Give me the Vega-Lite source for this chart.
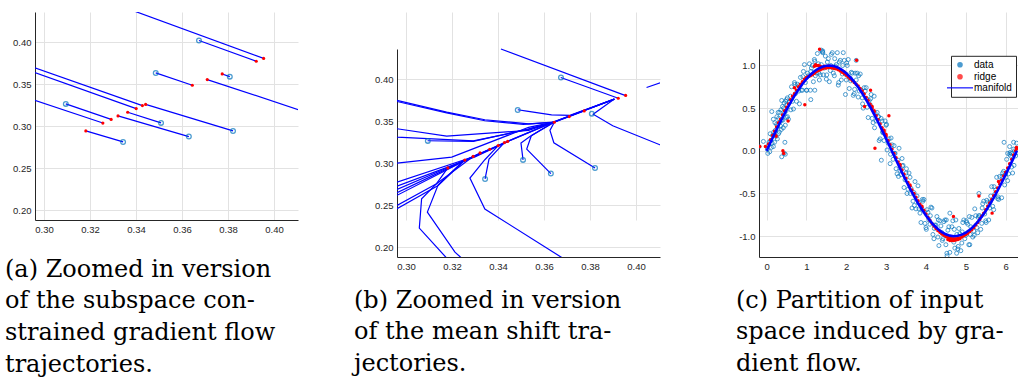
{
  "$schema": "https://vega.github.io/schema/vega-lite/v6.json",
  "background": "white",
  "padding": {"left": 5, "top": 12, "right": 0, "bottom": 0},
  "bounds": "flush",
  "spacing": 99,
  "config": {
    "view": {"stroke": null},
    "axis": {
      "domainColor": "#262626",
      "domainWidth": 1,
      "gridColor": "#e2e2e2",
      "gridWidth": 1,
      "ticks": false,
      "labelFont": "Liberation Sans",
      "labelFontSize": 9.5,
      "labelColor": "#262626",
      "labelPadding": 4,
      "title": null
    },
    "title": {
      "orient": "bottom",
      "anchor": "start",
      "frame": "group",
      "align": "left",
      "baseline": "alphabetic",
      "font": "DejaVu Serif",
      "fontSize": 24,
      "fontWeight": "normal",
      "lineHeight": 31.8,
      "color": "black"
    }
  },
  "datasets": {
    "trajA": [
      {"p":1,"i":0,"x":0.330,"y":0.4467},{"p":1,"i":1,"x":0.3955,"y":0.3810},
      {"p":2,"i":0,"x":0.3674,"y":0.4024},{"p":2,"i":1,"x":0.3923,"y":0.3776},
      {"p":3,"i":0,"x":0.3486,"y":0.3637},{"p":3,"i":1,"x":0.3645,"y":0.3490},
      {"p":4,"i":0,"x":0.3808,"y":0.3593},{"p":4,"i":1,"x":0.3775,"y":0.3625},
      {"p":5,"i":0,"x":0.420,"y":0.3115},{"p":5,"i":1,"x":0.3710,"y":0.3558},
      {"p":6,"i":0,"x":0.285,"y":0.3804},{"p":6,"i":1,"x":0.3428,"y":0.3248},
      {"p":7,"i":0,"x":0.285,"y":0.3749},{"p":7,"i":1,"x":0.3401,"y":0.3212},
      {"p":8,"i":0,"x":0.3822,"y":0.2946},{"p":8,"i":1,"x":0.3442,"y":0.3262},
      {"p":9,"i":0,"x":0.3095,"y":0.3268},{"p":9,"i":1,"x":0.3292,"y":0.3083},
      {"p":10,"i":0,"x":0.285,"y":0.3413},{"p":10,"i":1,"x":0.3256,"y":0.3040},
      {"p":11,"i":0,"x":0.3509,"y":0.3042},{"p":11,"i":1,"x":0.3364,"y":0.3169},
      {"p":12,"i":0,"x":0.3630,"y":0.2879},{"p":12,"i":1,"x":0.3322,"y":0.3125},
      {"p":13,"i":0,"x":0.3344,"y":0.2815},{"p":13,"i":1,"x":0.3182,"y":0.2946}
    ],
    "trajB": [
      {"p":1,"i":0,"x":0.3413,"y":0.4363},{"p":1,"i":1,"x":0.3952,"y":0.3810},
      {"p":2,"i":0,"x":0.3673,"y":0.4024},{"p":2,"i":1,"x":0.3923,"y":0.3776},
      {"p":3,"i":0,"x":0.4046,"y":0.3905},{"p":3,"i":1,"x":0.4200,"y":0.4051},
      {"p":4,"i":0,"x":0.4200,"y":0.3116},{"p":4,"i":1,"x":0.4104,"y":0.3222},{"p":4,"i":2,"x":0.3899,"y":0.3448},{"p":4,"i":3,"x":0.3814,"y":0.3585},{"p":4,"i":4,"x":0.3906,"y":0.3766},
      {"p":5,"i":0,"x":0.3486,"y":0.3639},{"p":5,"i":1,"x":0.3525,"y":0.3623},{"p":5,"i":2,"x":0.3633,"y":0.3579},{"p":5,"i":3,"x":0.3713,"y":0.3572},{"p":5,"i":4,"x":0.3906,"y":0.3766},
      {"p":6,"i":0,"x":0.285,"y":0.382},{"p":6,"i":1,"x":0.2961,"y":0.3750},{"p":6,"i":2,"x":0.3177,"y":0.3611},{"p":6,"i":3,"x":0.3343,"y":0.3520},{"p":6,"i":4,"x":0.3533,"y":0.3472},{"p":6,"i":5,"x":0.3641,"y":0.3492},{"p":6,"i":6,"x":0.3906,"y":0.3766},
      {"p":7,"i":0,"x":0.285,"y":0.3805},{"p":7,"i":1,"x":0.2961,"y":0.3738},{"p":7,"i":2,"x":0.3177,"y":0.3603},{"p":7,"i":3,"x":0.3343,"y":0.3508},{"p":7,"i":4,"x":0.3510,"y":0.3466},{"p":7,"i":5,"x":0.3641,"y":0.3488},
      {"p":8,"i":0,"x":0.285,"y":0.3455},{"p":8,"i":1,"x":0.2961,"y":0.3413},{"p":8,"i":2,"x":0.3177,"y":0.3325},{"p":8,"i":3,"x":0.3533,"y":0.3393},{"p":8,"i":4,"x":0.3641,"y":0.3490},{"p":8,"i":5,"x":0.3906,"y":0.3766},
      {"p":9,"i":0,"x":0.285,"y":0.3340},{"p":9,"i":1,"x":0.2961,"y":0.3313},{"p":9,"i":2,"x":0.3293,"y":0.3268},{"p":9,"i":3,"x":0.3533,"y":0.3405},{"p":9,"i":4,"x":0.3641,"y":0.3490},
      {"p":10,"i":0,"x":0.3094,"y":0.3270},{"p":10,"i":1,"x":0.3293,"y":0.3262},{"p":10,"i":2,"x":0.3533,"y":0.3412},{"p":10,"i":3,"x":0.3641,"y":0.3490},
      {"p":11,"i":0,"x":0.285,"y":0.2990},{"p":11,"i":1,"x":0.2961,"y":0.3003},{"p":11,"i":2,"x":0.3199,"y":0.3075},{"p":11,"i":3,"x":0.3533,"y":0.3430},{"p":11,"i":4,"x":0.3641,"y":0.3492},
      {"p":12,"i":0,"x":0.285,"y":0.2700},{"p":12,"i":1,"x":0.2961,"y":0.2777},{"p":12,"i":2,"x":0.3300,"y":0.3085},{"p":12,"i":3,"x":0.3442,"y":0.3262},{"p":12,"i":4,"x":0.3641,"y":0.3492},{"p":12,"i":5,"x":0.3906,"y":0.3766},
      {"p":13,"i":0,"x":0.285,"y":0.2640},{"p":13,"i":1,"x":0.2961,"y":0.2730},{"p":13,"i":2,"x":0.3300,"y":0.3078},{"p":13,"i":3,"x":0.3442,"y":0.3258},
      {"p":14,"i":0,"x":0.285,"y":0.2570},{"p":14,"i":1,"x":0.2961,"y":0.2690},{"p":14,"i":2,"x":0.3181,"y":0.2948},{"p":14,"i":3,"x":0.3442,"y":0.3262},{"p":14,"i":4,"x":0.3641,"y":0.3492},
      {"p":15,"i":0,"x":0.285,"y":0.2520},{"p":15,"i":1,"x":0.2961,"y":0.2650},{"p":15,"i":2,"x":0.3181,"y":0.2938},{"p":15,"i":3,"x":0.3364,"y":0.3169},
      {"p":16,"i":0,"x":0.285,"y":0.2460},{"p":16,"i":1,"x":0.2961,"y":0.2620},{"p":16,"i":2,"x":0.3181,"y":0.2928},{"p":16,"i":3,"x":0.3322,"y":0.3125},
      {"p":17,"i":0,"x":0.285,"y":0.2320},{"p":17,"i":1,"x":0.2961,"y":0.2500},{"p":17,"i":2,"x":0.3133,"y":0.2757},{"p":17,"i":3,"x":0.3292,"y":0.3083},
      {"p":18,"i":0,"x":0.285,"y":0.2260},{"p":18,"i":1,"x":0.2961,"y":0.2460},{"p":18,"i":2,"x":0.3140,"y":0.2738},{"p":18,"i":3,"x":0.3256,"y":0.3040},
      {"p":19,"i":0,"x":0.3201,"y":0.180},{"p":19,"i":1,"x":0.3058,"y":0.2229},{"p":19,"i":2,"x":0.3068,"y":0.2579},{"p":19,"i":3,"x":0.3133,"y":0.2760},{"p":19,"i":4,"x":0.3182,"y":0.2946},
      {"p":20,"i":0,"x":0.3271,"y":0.180},{"p":20,"i":1,"x":0.3213,"y":0.1943},{"p":20,"i":2,"x":0.3093,"y":0.2420},{"p":20,"i":3,"x":0.3140,"y":0.2745},{"p":20,"i":4,"x":0.3254,"y":0.3040},
      {"p":21,"i":0,"x":0.3723,"y":0.180},{"p":21,"i":1,"x":0.3343,"y":0.2456},{"p":21,"i":2,"x":0.3278,"y":0.2825},{"p":21,"i":3,"x":0.3343,"y":0.3044},{"p":21,"i":4,"x":0.3401,"y":0.3212},
      {"p":22,"i":0,"x":0.3344,"y":0.2815},{"p":22,"i":1,"x":0.3361,"y":0.3052},{"p":22,"i":2,"x":0.3428,"y":0.3248},
      {"p":23,"i":0,"x":0.3509,"y":0.3042},{"p":23,"i":1,"x":0.3500,"y":0.3242},{"p":23,"i":2,"x":0.3539,"y":0.3321},{"p":23,"i":3,"x":0.3641,"y":0.3490},
      {"p":24,"i":0,"x":0.3630,"y":0.2879},{"p":24,"i":1,"x":0.3525,"y":0.3170},{"p":24,"i":2,"x":0.3545,"y":0.3330},{"p":24,"i":3,"x":0.3645,"y":0.3490},
      {"p":25,"i":0,"x":0.3822,"y":0.2946},{"p":25,"i":1,"x":0.3643,"y":0.3246},{"p":25,"i":2,"x":0.3626,"y":0.3393},{"p":25,"i":3,"x":0.3645,"y":0.3490},{"p":25,"i":4,"x":0.3775,"y":0.3625}
    ],
    "starts": [
      {"x":0.3674,"y":0.4024},{"x":0.3486,"y":0.3637},{"x":0.3808,"y":0.3593},{"x":0.3822,"y":0.2946},
      {"x":0.3095,"y":0.3268},{"x":0.3509,"y":0.3042},{"x":0.3630,"y":0.2879},{"x":0.3344,"y":0.2815}
    ],
    "ends": [
      {"x":0.3955,"y":0.3810},{"x":0.3923,"y":0.3776},{"x":0.3645,"y":0.3490},{"x":0.3775,"y":0.3625},
      {"x":0.3710,"y":0.3558},{"x":0.3428,"y":0.3248},{"x":0.3401,"y":0.3212},{"x":0.3442,"y":0.3262},
      {"x":0.3292,"y":0.3083},{"x":0.3256,"y":0.3040},{"x":0.3364,"y":0.3169},{"x":0.3322,"y":0.3125},
      {"x":0.3182,"y":0.2946}
    ],
    "noisy": [
      {"x":-0.19,"y":0.05},{"x":-0.08,"y":0.11},{"x":0.02,"y":0.02},{"x":0.06,"y":0.10},{"x":0.08,"y":-0.01},{"x":0.10,"y":0.12},{"x":0.12,"y":0.04},{"x":0.13,"y":0.46},{"x":0.15,"y":0.18},{"x":0.17,"y":0.05},{"x":0.17,"y":0.37},{"x":0.18,"y":0.22},{"x":0.20,"y":0.10},{"x":0.22,"y":0.24},{"x":0.24,"y":0.17},{"x":0.25,"y":0.31},{"x":0.26,"y":0.40},{"x":0.27,"y":0.14},{"x":0.28,"y":0.29},{"x":0.30,"y":0.38},{"x":0.30,"y":0.20},{"x":0.32,"y":0.22},{"x":0.33,"y":0.45},{"x":0.34,"y":0.34},{"x":0.35,"y":0.29},{"x":0.36,"y":0.48},{"x":0.38,"y":0.36},{"x":0.38,"y":-0.07},{"x":0.38,"y":0.59},{"x":0.40,"y":0.52},{"x":0.41,"y":0.36},{"x":0.42,"y":0.27},{"x":0.43,"y":0.50},{"x":0.44,"y":-0.03},{"x":0.45,"y":0.44},{"x":0.46,"y":0.10},{"x":0.47,"y":-0.04},{"x":0.47,"y":0.30},{"x":0.48,"y":0.58},{"x":0.49,"y":0.47},{"x":0.50,"y":0.39},{"x":0.52,"y":0.62},
      {"x":0.05,"y":0.07},{"x":0.09,"y":0.20},{"x":0.14,"y":0.09},{"x":0.21,"y":0.33},{"x":0.29,"y":0.45},{"x":0.37,"y":0.25},{"x":0.44,"y":0.56},{"x":0.03,"y":-0.03},
      {"x":0.50,"y":0.60},{"x":0.525,"y":0.40},{"x":0.55,"y":0.37},{"x":0.575,"y":0.57},{"x":0.60,"y":0.64},{"x":0.625,"y":0.75},{"x":0.65,"y":0.58},{"x":0.675,"y":0.49},{"x":0.70,"y":0.80},{"x":0.725,"y":0.67},
      {"x":0.75,"y":0.58},{"x":0.775,"y":0.78},{"x":0.80,"y":0.76},{"x":0.825,"y":0.55},{"x":0.85,"y":0.86},{"x":0.875,"y":0.71},{"x":0.90,"y":0.71},{"x":0.925,"y":0.93},{"x":0.95,"y":1.01},{"x":0.975,"y":0.80},
      {"x":1.00,"y":0.71},{"x":1.025,"y":0.91},{"x":1.05,"y":0.88},{"x":1.075,"y":1.02},{"x":1.10,"y":0.71},{"x":1.125,"y":0.97},{"x":1.15,"y":1.00},{"x":1.175,"y":0.81},{"x":1.20,"y":1.07},{"x":1.225,"y":0.88},
      {"x":1.25,"y":0.91},{"x":1.275,"y":1.14},{"x":1.30,"y":1.02},{"x":1.325,"y":0.83},{"x":1.35,"y":0.89},{"x":1.375,"y":1.01},{"x":1.40,"y":1.16},{"x":1.425,"y":0.89},{"x":1.45,"y":0.97},{"x":1.475,"y":1.11},
      {"x":1.50,"y":0.84},{"x":1.525,"y":1.04},{"x":1.55,"y":1.08},{"x":1.575,"y":0.81},{"x":1.60,"y":0.94},{"x":1.625,"y":1.13},{"x":1.65,"y":1.15},{"x":1.675,"y":0.91},{"x":1.70,"y":0.88},{"x":1.725,"y":0.99},
      {"x":1.75,"y":1.01},{"x":1.775,"y":1.15},{"x":1.80,"y":0.77},{"x":1.825,"y":1.04},{"x":1.85,"y":1.06},{"x":1.875,"y":0.83},{"x":1.90,"y":0.90},{"x":1.925,"y":1.15},{"x":1.95,"y":1.06},{"x":1.975,"y":0.90},
      {"x":2.00,"y":0.83},{"x":2.025,"y":1.00},{"x":2.05,"y":1.07},{"x":2.075,"y":0.73},{"x":2.10,"y":0.85},{"x":2.125,"y":0.92},{"x":2.15,"y":0.91},{"x":2.175,"y":0.65},{"x":2.20,"y":0.67},{"x":2.225,"y":0.91},
      {"x":2.25,"y":0.83},{"x":2.275,"y":0.91},{"x":2.30,"y":0.63},{"x":2.325,"y":0.70},{"x":2.35,"y":0.90},{"x":2.375,"y":0.71},{"x":2.40,"y":0.62},{"x":2.425,"y":0.50},{"x":2.45,"y":0.74},{"x":2.475,"y":0.70},
      {"x":2.50,"y":0.74},{"x":2.525,"y":0.51},{"x":2.55,"y":0.39},{"x":2.575,"y":0.59},{"x":2.60,"y":0.54},{"x":2.625,"y":0.66},{"x":2.65,"y":0.38},{"x":2.675,"y":0.33},{"x":2.70,"y":0.64},{"x":2.725,"y":0.44},
      {"x":2.75,"y":0.35},{"x":2.775,"y":0.45},{"x":2.80,"y":0.40},{"x":2.825,"y":0.12},{"x":2.85,"y":0.14},{"x":2.875,"y":0.38},{"x":2.90,"y":0.35},{"x":2.925,"y":0.21},{"x":2.95,"y":0.12},{"x":2.975,"y":0.35},
      {"x":3.00,"y":0.30},{"x":3.025,"y":0.01},{"x":3.05,"y":0.09},{"x":3.075,"y":0.14},{"x":3.10,"y":-0.15},{"x":3.125,"y":0.15},{"x":3.15,"y":0.07},{"x":3.175,"y":-0.10},{"x":3.20,"y":0.06},{"x":3.225,"y":-0.03},
      {"x":3.25,"y":-0.21},{"x":3.275,"y":-0.27},{"x":3.30,"y":-0.11},{"x":3.325,"y":0.03},{"x":3.35,"y":-0.23},{"x":3.375,"y":-0.28},{"x":3.40,"y":-0.09},{"x":3.425,"y":-0.17},{"x":3.45,"y":-0.43},{"x":3.475,"y":-0.34},
      {"x":3.50,"y":-0.26},{"x":3.525,"y":-0.50},{"x":3.55,"y":-0.45},{"x":3.575,"y":-0.26},{"x":3.60,"y":-0.31},{"x":3.625,"y":-0.44},{"x":3.65,"y":-0.67},{"x":3.675,"y":-0.59},{"x":3.70,"y":-0.49},{"x":3.725,"y":-0.36},
      {"x":3.75,"y":-0.68},{"x":3.775,"y":-0.53},{"x":3.80,"y":-0.41},{"x":3.825,"y":-0.68},{"x":3.85,"y":-0.73},{"x":3.875,"y":-0.84},{"x":3.90,"y":-0.68},{"x":3.925,"y":-0.59},{"x":3.95,"y":-0.57},{"x":3.975,"y":-0.85},
      {"x":4.00,"y":-0.90},{"x":4.025,"y":-0.69},{"x":4.05,"y":-0.72},{"x":4.075,"y":-0.81},{"x":4.10,"y":-0.86},{"x":4.125,"y":-0.66},{"x":4.15,"y":-0.67},{"x":4.175,"y":-0.98},{"x":4.20,"y":-1.03},{"x":4.225,"y":-0.87},
      {"x":4.25,"y":-0.87},{"x":4.275,"y":-0.77},{"x":4.30,"y":-1.01},{"x":4.325,"y":-1.11},{"x":4.35,"y":-0.82},{"x":4.375,"y":-0.88},{"x":4.40,"y":-0.96},{"x":4.425,"y":-1.03},{"x":4.45,"y":-0.83},{"x":4.475,"y":-0.81},
      {"x":4.50,"y":-1.10},{"x":4.525,"y":-1.20},{"x":4.55,"y":-0.93},{"x":4.575,"y":-0.89},{"x":4.60,"y":-1.19},{"x":4.625,"y":-1.04},{"x":4.65,"y":-0.89},{"x":4.675,"y":-0.82},{"x":4.70,"y":-1.07},{"x":4.725,"y":-1.14},
      {"x":4.75,"y":-0.81},{"x":4.775,"y":-0.98},{"x":4.80,"y":-1.15},{"x":4.825,"y":-0.91},{"x":4.85,"y":-0.97},{"x":4.875,"y":-1.17},{"x":4.90,"y":-1.08},{"x":4.925,"y":-0.84},{"x":4.95,"y":-0.81},{"x":4.975,"y":-1.03},
      {"x":5.00,"y":-0.99},{"x":5.025,"y":-0.84},{"x":5.05,"y":-0.86},{"x":5.075,"y":-1.10},{"x":5.10,"y":-1.10},{"x":5.125,"y":-0.89},{"x":5.15,"y":-0.78},{"x":5.175,"y":-1.01},{"x":5.20,"y":-0.94},{"x":5.225,"y":-0.68},
      {"x":5.25,"y":-0.76},{"x":5.275,"y":-0.90},{"x":5.30,"y":-0.96},{"x":5.325,"y":-0.76},{"x":5.35,"y":-0.76},{"x":5.375,"y":-0.92},{"x":5.40,"y":-0.85},{"x":5.425,"y":-0.62},{"x":5.45,"y":-0.59},{"x":5.475,"y":-0.74},
      {"x":5.50,"y":-0.82},{"x":5.525,"y":-0.58},{"x":5.55,"y":-0.60},{"x":5.575,"y":-0.81},{"x":5.60,"y":-0.67},{"x":5.625,"y":-0.53},{"x":5.65,"y":-0.42},{"x":5.675,"y":-0.65},{"x":5.70,"y":-0.69},{"x":5.725,"y":-0.51},
      {"x":5.75,"y":-0.46},{"x":5.775,"y":-0.31},{"x":5.80,"y":-0.56},{"x":5.825,"y":-0.57},{"x":5.85,"y":-0.30},{"x":5.875,"y":-0.36},{"x":5.90,"y":-0.55},{"x":5.925,"y":-0.26},{"x":5.95,"y":-0.24},{"x":5.975,"y":-0.40},
      {"x":6.00,"y":-0.27},{"x":6.025,"y":-0.10},{"x":6.05,"y":-0.35},{"x":6.075,"y":-0.27},{"x":6.10,"y":-0.04},{"x":6.125,"y":-0.06},{"x":6.15,"y":-0.19},{"x":6.175,"y":-0.26},{"x":6.20,"y":0.02},{"x":6.225,"y":0.00},
      {"x":6.25,"y":-0.06},{"x":6.275,"y":0.09},
      {"x":0.51,"y":0.54},{"x":0.61,"y":0.48},{"x":0.71,"y":0.78},{"x":0.81,"y":0.70},{"x":0.91,"y":0.87},{"x":1.01,"y":0.71},{"x":1.11,"y":0.93},{"x":1.21,"y":1.05},{"x":1.31,"y":0.91},{"x":1.41,"y":1.15},
      {"x":1.51,"y":0.89},{"x":1.61,"y":1.00},{"x":1.71,"y":1.08},{"x":1.81,"y":0.80},{"x":1.91,"y":1.00},{"x":2.01,"y":1.03},{"x":2.11,"y":0.82},{"x":2.21,"y":0.72},{"x":2.31,"y":0.88},{"x":2.41,"y":0.55},
      {"x":2.51,"y":0.61},{"x":2.61,"y":0.61},{"x":2.71,"y":0.27},{"x":2.81,"y":0.40},{"x":2.91,"y":0.22},{"x":3.01,"y":0.31},{"x":3.11,"y":-0.04},{"x":3.21,"y":-0.03},{"x":3.31,"y":-0.30},{"x":3.41,"y":-0.18},
      {"x":3.51,"y":-0.21},{"x":3.61,"y":-0.50},{"x":3.71,"y":-0.64},{"x":3.81,"y":-0.61},{"x":3.91,"y":-0.57},{"x":4.01,"y":-0.92},{"x":4.11,"y":-0.76},{"x":4.21,"y":-0.91},{"x":4.31,"y":-0.81},{"x":4.41,"y":-1.05},
      {"x":4.51,"y":-0.81},{"x":4.61,"y":-1.02},{"x":4.71,"y":-0.92},{"x":4.81,"y":-1.12},{"x":4.91,"y":-0.95},{"x":5.01,"y":-0.82},{"x":5.11,"y":-0.98},{"x":5.21,"y":-0.99},{"x":5.31,"y":-0.78},{"x":5.41,"y":-0.67},
      {"x":5.51,"y":-0.84},{"x":5.61,"y":-0.60},{"x":5.71,"y":-0.42},{"x":5.81,"y":-0.54},{"x":5.91,"y":-0.30},{"x":6.01,"y":-0.31},{"x":6.11,"y":-0.02},{"x":6.21,"y":-0.17},
      {"x":1.11,"y":0.60},{"x":1.21,"y":0.71},{"x":1.37,"y":1.18},{"x":1.41,"y":1.17},{"x":1.98,"y":0.66},{"x":2.25,"y":1.06},{"x":2.88,"y":-0.11},{"x":4.53,"y":-1.23},{"x":4.60,"y":-0.73},{"x":4.77,"y":-1.20},{"x":5.09,"y":-0.77},{"x":5.33,"y":-0.50},{"x":5.96,"y":0.10},{"x":6.20,"y":0.10},{"x":6.10,"y":0.05},{"x":6.05,"y":-0.03},{"x":6.15,"y":-0.03},{"x":6.28,"y":-0.02}
    ],
    "ridge": [
      {"x":0.05,"y":0.08},{"x":0.10,"y":0.13},{"x":0.15,"y":0.18},{"x":0.20,"y":0.23},{"x":0.25,"y":0.28},{"x":0.30,"y":0.33},{"x":0.35,"y":0.37},{"x":0.40,"y":0.42},{"x":0.45,"y":0.47},{"x":0.50,"y":0.51},
      {"x":0.55,"y":0.55},{"x":0.60,"y":0.60},{"x":0.65,"y":0.64},{"x":0.70,"y":0.67},{"x":0.75,"y":0.71},{"x":0.80,"y":0.75},{"x":0.85,"y":0.78},{"x":0.90,"y":0.81},{"x":0.95,"y":0.84},{"x":1.00,"y":0.86},
      {"x":1.05,"y":0.87},{"x":1.10,"y":0.88},{"x":1.15,"y":0.89},{"x":1.20,"y":0.91},{"x":1.25,"y":0.93},{"x":1.30,"y":0.94},{"x":1.35,"y":0.95},{"x":1.40,"y":0.96},{"x":1.45,"y":0.97},{"x":1.50,"y":0.97},
      {"x":1.55,"y":0.975},{"x":1.60,"y":0.975},{"x":1.65,"y":0.97},{"x":1.70,"y":0.965},{"x":1.75,"y":0.96},{"x":1.80,"y":0.95},{"x":1.85,"y":0.935},{"x":1.90,"y":0.92},{"x":1.95,"y":0.905},{"x":2.00,"y":0.885},
      {"x":2.05,"y":0.865},{"x":2.10,"y":0.845},{"x":2.15,"y":0.825},{"x":2.20,"y":0.80},{"x":2.25,"y":0.78},{"x":2.30,"y":0.76},{"x":2.35,"y":0.73},{"x":2.40,"y":0.70},{"x":2.45,"y":0.665},{"x":2.50,"y":0.625},
      {"x":2.55,"y":0.59},{"x":2.60,"y":0.545},{"x":2.65,"y":0.50},{"x":2.70,"y":0.455},{"x":2.75,"y":0.41},{"x":2.80,"y":0.365},{"x":2.85,"y":0.315},{"x":2.90,"y":0.27},{"x":2.95,"y":0.22},{"x":3.00,"y":0.17},
      {"x":3.05,"y":0.12},{"x":3.10,"y":0.07},{"x":3.15,"y":0.02},{"x":3.20,"y":-0.03},{"x":3.25,"y":-0.08},{"x":3.30,"y":-0.13},{"x":3.35,"y":-0.18},{"x":3.40,"y":-0.225},{"x":3.45,"y":-0.275},{"x":3.50,"y":-0.32},
      {"x":3.55,"y":-0.37},{"x":3.60,"y":-0.415},{"x":3.65,"y":-0.46},{"x":3.70,"y":-0.50},{"x":3.75,"y":-0.545},{"x":3.80,"y":-0.585},{"x":3.85,"y":-0.625},{"x":3.90,"y":-0.665},{"x":3.95,"y":-0.70},{"x":4.00,"y":-0.74},
      {"x":4.05,"y":-0.78},{"x":4.10,"y":-0.815},{"x":4.15,"y":-0.85},{"x":4.20,"y":-0.88},{"x":4.25,"y":-0.91},{"x":4.30,"y":-0.935},{"x":4.35,"y":-0.955},{"x":4.40,"y":-0.975},{"x":4.45,"y":-0.99},{"x":4.50,"y":-1.005},
      {"x":4.55,"y":-1.015},{"x":4.60,"y":-1.025},{"x":4.65,"y":-1.03},{"x":4.70,"y":-1.03},{"x":4.75,"y":-1.03},{"x":4.80,"y":-1.025},{"x":4.85,"y":-1.02},{"x":4.90,"y":-1.01},{"x":4.95,"y":-0.995},{"x":5.00,"y":-0.98},
      {"x":5.05,"y":-0.965},{"x":5.10,"y":-0.945},{"x":5.15,"y":-0.925},{"x":5.20,"y":-0.90},{"x":5.25,"y":-0.87},{"x":5.30,"y":-0.84},{"x":5.35,"y":-0.805},{"x":5.40,"y":-0.765},{"x":5.45,"y":-0.73},{"x":5.50,"y":-0.69},
      {"x":5.55,"y":-0.65},{"x":5.60,"y":-0.61},{"x":5.65,"y":-0.57},{"x":5.70,"y":-0.525},{"x":5.75,"y":-0.48},{"x":5.80,"y":-0.435},{"x":5.85,"y":-0.39},{"x":5.90,"y":-0.345},{"x":5.95,"y":-0.295},{"x":6.00,"y":-0.25},
      {"x":6.05,"y":-0.20},{"x":6.10,"y":-0.15},{"x":6.15,"y":-0.10},{"x":6.20,"y":-0.05},{"x":6.25,"y":0.0},{"x":6.28,"y":0.03},
      {"x":1.20,"y":0.99},{"x":1.23,"y":1.01},{"x":1.25,"y":1.0},{"x":1.30,"y":1.0},{"x":1.35,"y":0.99},{"x":1.45,"y":0.99},{"x":1.55,"y":0.99},{"x":1.65,"y":0.985},{"x":1.75,"y":0.97},{"x":1.85,"y":0.95},{"x":1.95,"y":0.925},{"x":2.00,"y":0.90},
      {"x":4.55,"y":-1.04},{"x":4.60,"y":-1.05},{"x":4.65,"y":-1.05},{"x":4.70,"y":-1.05},{"x":4.75,"y":-1.045},{"x":4.80,"y":-1.04},{"x":4.85,"y":-1.03},
      {"x":2.95,"y":0.24},{"x":3.00,"y":0.19},{"x":2.65,"y":0.52},{"x":2.70,"y":0.47},{"x":3.35,"y":-0.16},{"x":3.60,"y":-0.40},{"x":3.90,"y":-0.65},
      {"x":-0.17,"y":0.05},{"x":-0.03,"y":0.05},{"x":0.21,"y":0.19},{"x":0.24,"y":0.17},{"x":0.41,"y":0.0},{"x":0.43,"y":-0.03},{"x":0.54,"y":0.35},{"x":0.70,"y":0.74},{"x":0.96,"y":0.54},{"x":1.33,"y":1.19},
      {"x":2.26,"y":1.06},{"x":2.46,"y":0.52},{"x":2.61,"y":0.71},{"x":2.72,"y":0.03},{"x":3.07,"y":0.41},{"x":4.69,"y":-0.77},{"x":5.33,"y":-0.53},{"x":5.66,"y":-0.73},{"x":5.82,"y":-0.36},{"x":6.27,"y":0.04}
    ],
    "manifold": [
      {"x":0.0,"y":0.0},{"x":0.1,"y":0.100},{"x":0.2,"y":0.199},{"x":0.3,"y":0.296},{"x":0.4,"y":0.389},{"x":0.5,"y":0.479},{"x":0.6,"y":0.565},{"x":0.7,"y":0.644},{"x":0.8,"y":0.717},{"x":0.9,"y":0.783},
      {"x":1.0,"y":0.841},{"x":1.1,"y":0.891},{"x":1.2,"y":0.932},{"x":1.3,"y":0.964},{"x":1.4,"y":0.985},{"x":1.5,"y":0.997},{"x":1.6,"y":1.0},{"x":1.7,"y":0.992},{"x":1.8,"y":0.974},{"x":1.9,"y":0.946},
      {"x":2.0,"y":0.909},{"x":2.1,"y":0.863},{"x":2.2,"y":0.808},{"x":2.3,"y":0.746},{"x":2.4,"y":0.675},{"x":2.5,"y":0.598},{"x":2.6,"y":0.516},{"x":2.7,"y":0.427},{"x":2.8,"y":0.335},{"x":2.9,"y":0.239},
      {"x":3.0,"y":0.141},{"x":3.1,"y":0.042},{"x":3.2,"y":-0.058},{"x":3.3,"y":-0.158},{"x":3.4,"y":-0.256},{"x":3.5,"y":-0.351},{"x":3.6,"y":-0.443},{"x":3.7,"y":-0.530},{"x":3.8,"y":-0.612},{"x":3.9,"y":-0.688},
      {"x":4.0,"y":-0.757},{"x":4.1,"y":-0.818},{"x":4.2,"y":-0.872},{"x":4.3,"y":-0.916},{"x":4.4,"y":-0.952},{"x":4.5,"y":-0.978},{"x":4.6,"y":-0.994},{"x":4.7,"y":-1.0},{"x":4.8,"y":-0.996},{"x":4.9,"y":-0.982},
      {"x":5.0,"y":-0.959},{"x":5.1,"y":-0.926},{"x":5.2,"y":-0.883},{"x":5.3,"y":-0.832},{"x":5.4,"y":-0.773},{"x":5.5,"y":-0.706},{"x":5.6,"y":-0.631},{"x":5.7,"y":-0.551},{"x":5.8,"y":-0.465},{"x":5.9,"y":-0.374},
      {"x":6.0,"y":-0.279},{"x":6.1,"y":-0.182},{"x":6.2,"y":-0.083},{"x":6.283,"y":0.0}
    ]
  },
  "hconcat": [
    {
      "width": 263,
      "height": 208,
      "title": {
        "text": ["(a) Zoomed in version", "of the subspace con-", "strained gradient flow", "trajectories."],
        "dx": -30,
        "offset": 24
      },
      "layer": [
        {
          "data": {"name": "trajA"},
          "mark": {"type": "line", "clip": true, "color": "#0000ff", "strokeWidth": 1.2},
          "encoding": {
            "x": {"field": "x", "type": "quantitative", "scale": {"domain": [0.2961, 0.41045], "nice": false, "zero": false}, "axis": {"values": [0.3, 0.32, 0.34, 0.36, 0.38, 0.4]}},
            "y": {"field": "y", "type": "quantitative", "scale": {"domain": [0.1885, 0.4363], "nice": false, "zero": false}, "axis": {"values": [0.2, 0.25, 0.3, 0.35, 0.4]}},
            "detail": {"field": "p", "type": "nominal"},
            "order": {"field": "i", "type": "quantitative"}
          }
        },
        {
          "data": {"name": "starts"},
          "mark": {"type": "point", "shape": "circle", "filled": false, "color": "#0072bd", "size": 22, "strokeWidth": 1.3, "clip": true},
          "encoding": {
            "x": {"field": "x", "type": "quantitative", "scale": {"domain": [0.2961, 0.41045], "nice": false, "zero": false}},
            "y": {"field": "y", "type": "quantitative", "scale": {"domain": [0.1885, 0.4363], "nice": false, "zero": false}}
          }
        },
        {
          "data": {"name": "ends"},
          "mark": {"type": "circle", "color": "#ff0000", "size": 10, "opacity": 1, "clip": true},
          "encoding": {
            "x": {"field": "x", "type": "quantitative", "scale": {"domain": [0.2961, 0.41045], "nice": false, "zero": false}},
            "y": {"field": "y", "type": "quantitative", "scale": {"domain": [0.1885, 0.4363], "nice": false, "zero": false}}
          }
        }
      ]
    },
    {
      "width": 263,
      "height": 245,
      "title": {
        "text": ["(b) Zoomed in version", "of the mean shift tra-", "jectories."],
        "dx": -43,
        "offset": 18
      },
      "layer": [
        {
          "data": {"name": "trajB"},
          "mark": {"type": "line", "clip": true, "color": "#0000ff", "strokeWidth": 1.2},
          "encoding": {
            "x": {"field": "x", "type": "quantitative", "scale": {"domain": [0.2961, 0.41045], "nice": false, "zero": false}, "axis": {"values": [0.3, 0.32, 0.34, 0.36, 0.38, 0.4]}},
            "y": {"field": "y", "type": "quantitative", "scale": {"domain": [0.1885, 0.4363], "range": [245, 37], "nice": false, "zero": false}, "axis": {"values": [0.2, 0.25, 0.3, 0.35, 0.4]}},
            "detail": {"field": "p", "type": "nominal"},
            "order": {"field": "i", "type": "quantitative"}
          }
        },
        {
          "data": {"name": "starts"},
          "mark": {"type": "point", "shape": "circle", "filled": false, "color": "#0072bd", "size": 22, "strokeWidth": 1.3, "clip": true},
          "encoding": {
            "x": {"field": "x", "type": "quantitative", "scale": {"domain": [0.2961, 0.41045], "nice": false, "zero": false}},
            "y": {"field": "y", "type": "quantitative", "scale": {"domain": [0.1885, 0.4363], "range": [245, 37], "nice": false, "zero": false}}
          }
        },
        {
          "data": {"name": "ends"},
          "mark": {"type": "circle", "color": "#ff0000", "size": 10, "opacity": 1, "clip": true},
          "encoding": {
            "x": {"field": "x", "type": "quantitative", "scale": {"domain": [0.2961, 0.41045], "nice": false, "zero": false}},
            "y": {"field": "y", "type": "quantitative", "scale": {"domain": [0.1885, 0.4363], "range": [245, 37], "nice": false, "zero": false}}
          }
        }
      ]
    },
    {
      "width": 259,
      "height": 245,
      "title": {
        "text": ["(c) Partition of input", "space induced by gra-", "dient flow."],
        "dx": -23,
        "offset": 18
      },
      "layer": [
        {
          "data": {"name": "noisy"},
          "mark": {"type": "point", "filled": false, "size": 16, "strokeWidth": 1, "clip": true},
          "encoding": {
            "x": {"field": "x", "type": "quantitative", "scale": {"domain": [-0.19, 6.31], "nice": false, "zero": false}, "axis": {"values": [0, 1, 2, 3, 4, 5, 6]}},
            "y": {"field": "y", "type": "quantitative", "scale": {"domain": [-1.244, 1.193], "range": [245, 37], "nice": false, "zero": false}, "axis": {"values": [-1, -0.5, 0, 0.5, 1], "labelExpr": "replace(datum.label, '−', '-')"}},
            "color": {
              "datum": "data",
              "type": "nominal",
              "scale": {"domain": ["data", "ridge", "manifold"], "range": ["#0072bd", "#ff0000", "#0000ff"]},
              "legend": {
                "orient": "none",
                "legendX": 916,
                "legendY": 43.8,
                "title": null,
                "fillColor": "white",
                "strokeColor": "#262626",
                "padding": 4,
                "rowPadding": 0,
                "symbolSize": 16,
                "symbolStrokeWidth": 1.6,
                "symbolFillColor": "transparent",
                "labelFont": "Liberation Sans",
                "labelFontSize": 10,
                "labelColor": "black",
                "labelOffset": 9
              }
            },
            "shape": {
              "datum": "data",
              "type": "nominal",
              "scale": {"domain": ["data", "ridge", "manifold"], "range": ["circle", "circle", "M-6.5,0H6.5"]}
            }
          }
        },
        {
          "data": {"name": "ridge"},
          "mark": {"type": "point", "filled": true, "size": 12, "opacity": 1, "clip": true},
          "encoding": {
            "x": {"field": "x", "type": "quantitative", "scale": {"domain": [-0.19, 6.31], "nice": false, "zero": false}},
            "y": {"field": "y", "type": "quantitative", "scale": {"domain": [-1.244, 1.193], "range": [245, 37], "nice": false, "zero": false}},
            "color": {"datum": "ridge", "type": "nominal"},
            "shape": {"datum": "ridge", "type": "nominal"}
          }
        },
        {
          "data": {"name": "manifold"},
          "mark": {"type": "line", "strokeWidth": 2.6, "clip": true},
          "encoding": {
            "x": {"field": "x", "type": "quantitative", "scale": {"domain": [-0.19, 6.31], "nice": false, "zero": false}},
            "y": {"field": "y", "type": "quantitative", "scale": {"domain": [-1.244, 1.193], "range": [245, 37], "nice": false, "zero": false}},
            "color": {"datum": "manifold", "type": "nominal"}
          }
        }
      ]
    }
  ]
}
